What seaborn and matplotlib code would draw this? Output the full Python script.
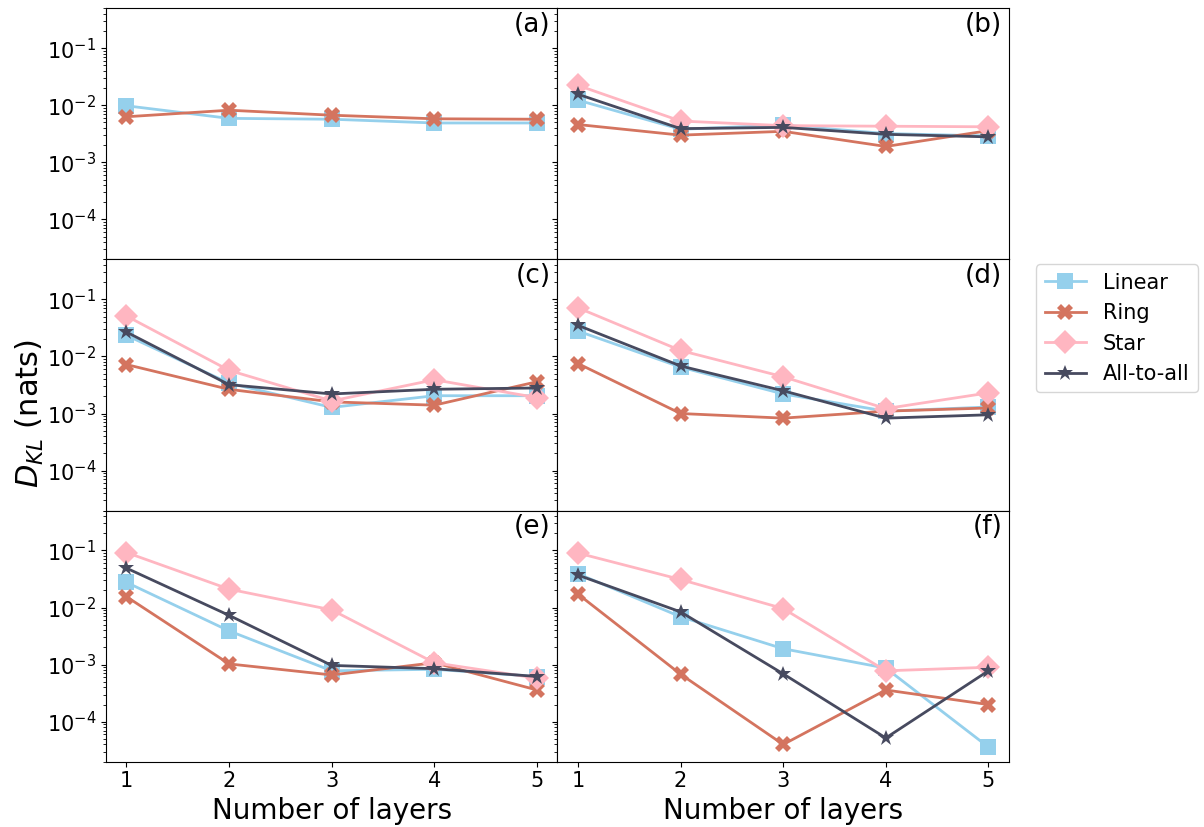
import numpy as np
import pandas as pd
import matplotlib
matplotlib.use("Agg")
import matplotlib.pyplot as plt
import seaborn as sns

layers = [1, 2, 3, 4, 5]
topologies = ["Linear", "Ring", "Star", "All-to-all"]
panel_labels = ["(a)", "(b)", "(c)", "(d)", "(e)", "(f)"]

# KL divergence (nats) per panel and topology
a_linear = [0.0098, 0.0059, 0.0057, 0.0049, 0.0049]
a_ring = [0.0063, 0.0082, 0.0067, 0.0058, 0.0057]

b_linear = [0.0123, 0.0038, 0.0045, 0.0032, 0.0029]
b_ring = [0.0046, 0.0030, 0.0035, 0.0019, 0.0036]
b_star = [0.0223, 0.0053, 0.0044, 0.0043, 0.0042]
b_all = [0.0156, 0.0039, 0.0041, 0.0031, 0.0028]

c_linear = [0.0234, 0.0034, 0.00128, 0.00205, 0.00205]
c_ring = [0.0072, 0.00265, 0.00160, 0.0014, 0.0036]
c_star = [0.051, 0.0057, 0.00166, 0.0039, 0.0019]
c_all = [0.0267, 0.0032, 0.0022, 0.00266, 0.0028]

d_linear = [0.0278, 0.0065, 0.0022, 0.0011, 0.0013]
d_ring = [0.0075, 0.0010, 0.00083, 0.0011, 0.00125]
d_star = [0.071, 0.0127, 0.0044, 0.00122, 0.0023]
d_all = [0.035, 0.0068, 0.0025, 0.00083, 0.00095]

e_linear = [0.0276, 0.0039, 0.00078, 0.00083, 0.00062]
e_ring = [0.0155, 0.00103, 0.00066, 0.00108, 0.00036]
e_star = [0.092, 0.021, 0.0091, 0.00108, 0.00058]
e_all = [0.049, 0.0073, 0.00097, 0.00085, 0.00062]

f_linear = [0.039, 0.0069, 0.0019, 0.00087, 3.6e-5]
f_ring = [0.0172, 0.00068, 4.0e-5, 0.00036, 0.0002]
f_star = [0.090, 0.0310, 0.0096, 0.00078, 0.0009]
f_all = [0.037, 0.0084, 0.00069, 5.2e-5, 0.00078]

panels = [
    {"Linear": a_linear, "Ring": a_ring},
    {"Linear": b_linear, "Ring": b_ring, "Star": b_star, "All-to-all": b_all},
    {"Linear": c_linear, "Ring": c_ring, "Star": c_star, "All-to-all": c_all},
    {"Linear": d_linear, "Ring": d_ring, "Star": d_star, "All-to-all": d_all},
    {"Linear": e_linear, "Ring": e_ring, "Star": e_star, "All-to-all": e_all},
    {"Linear": f_linear, "Ring": f_ring, "Star": f_star, "All-to-all": f_all},
]

palette = {"Linear": "#95d0ec", "Ring": "#d4745f", "Star": "#ffb6c1", "All-to-all": "#474a5f"}
markers = {"Linear": "s", "Ring": "X", "Star": "D", "All-to-all": "*"}
msizes = {"Linear": 11, "Ring": 11, "Star": 12, "All-to-all": 12}

fig, axes = plt.subplots(3, 2, figsize=(12.04, 8.27), dpi=100, sharex=True, sharey=True)
fig.subplots_adjust(left=0.088, right=0.838, top=0.990, bottom=0.079, hspace=0, wspace=0)

for ax, data, lab in zip(axes.flat, panels, panel_labels):
    rows = []
    for topo, vals in data.items():
        for n, v in zip(layers, vals):
            rows.append({"layers": n, "kl": v, "topology": topo})
    df = pd.DataFrame(rows)
    for topo in topologies:
        if topo not in data:
            continue
        sns.lineplot(
            data=df[df["topology"] == topo], x="layers", y="kl", ax=ax,
            color=palette[topo], marker=markers[topo], markersize=msizes[topo],
            markeredgewidth=0, linewidth=2, label=topo, legend=False,
        )
    ax.set_yscale("log")
    ax.set_ylim(2e-5, 0.5)
    ax.set_xlim(0.8, 5.2)
    ax.set_xticks(layers)
    ax.set_xlabel("")
    ax.set_ylabel("")
    ax.tick_params(labelsize=15)
    ax.text(0.985, 0.985, lab, transform=ax.transAxes, ha="right", va="top", fontsize=19)

for ax in axes[-1, :]:
    ax.set_xlabel("Number of layers", fontsize=20)

fig.text(0.025, 0.5, "$D_{KL}$ (nats)", rotation=90, va="center", ha="center", fontsize=22)

handles, labels = axes[0, 1].get_legend_handles_labels()
fig.legend(handles, labels, loc="center left", bbox_to_anchor=(0.852, 0.603),
           fontsize=15, frameon=True, handlelength=2.0)

fig.savefig("out.png", dpi=100)
